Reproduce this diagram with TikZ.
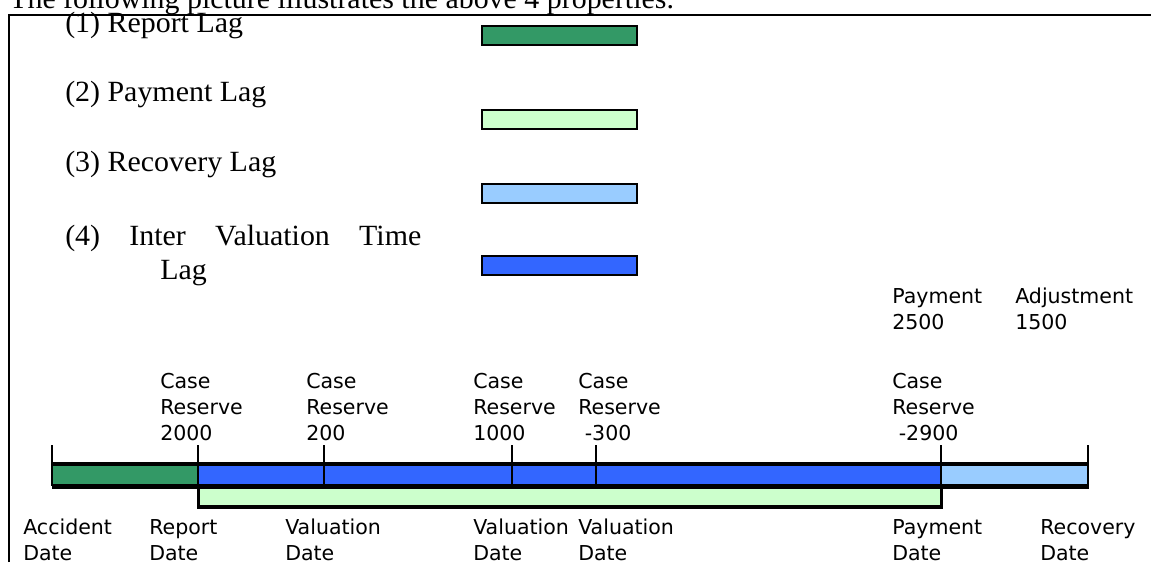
\documentclass[tikz,border=0pt]{standalone}
\usepackage{fontspec}
\setmainfont{Liberation Serif}
\newfontfamily\lagfont[FakeStretch=1.02]{Liberation Serif}
\newfontfamily\datefont{DejaVu Sans}
\usepackage{tikz}

\definecolor{reportgreen}{HTML}{339966}
\definecolor{paygreen}{HTML}{CCFFCC}
\definecolor{recovblue}{HTML}{99CCFF}
\definecolor{interblue}{HTML}{3366FF}

\begin{document}
\begin{tikzpicture}[x=0.75pt,y=-0.75pt,
  lag/.style = {anchor=base west, inner sep=0pt, align=left, font=\lagfont\fontsize{22}{25.5}\selectfont},
  key/.style = {draw, line width=1.5pt, minimum width=116.25pt, minimum height=14.25pt, inner sep=0pt},
  lbl/.style = {anchor=base west, inner sep=0pt, align=left, font=\datefont\fontsize{15.4}{19.5}\selectfont},
  tick/.style = {line width=1.3pt}]
\useasboundingbox (0,0) rectangle (1151,562);

% frame and heading
\node[lag] (title) at (9,8) {The following picture illustrates the above 4 properties.};
\draw[line width=1.6pt] (9,562) -- (9,15) -- (1151,15);

% legend (base anchor sits on the last line)
\node[lag] (l1) at (65,32) {(1) Report Lag};
\node[lag] (l2) at (65,101) {(2) Payment Lag};
\node[lag] (l3) at (65,171) {(3) Recovery Lag};
\node[lag] (l4) at (65,279) {\makebox[267pt][s]{(4) Inter Valuation Time}\\\hspace*{71.25pt}Lag};
\node[key, fill=reportgreen] (k1) at (559.5,35.5) {};
\node[key, fill=paygreen] (k2) at (559.5,119.5) {};
\node[key, fill=recovblue] (k3) at (559.5,193) {};
\node[key, fill=interblue] (k4) at (559.5,265.5) {};

% time line
\fill[reportgreen] (52,464) rectangle (198,486);
\fill[interblue] (198,464) rectangle (941,486);
\fill[recovblue] (941,464) rectangle (1088,486);
\fill[paygreen] (198,486) rectangle (941,507);
\draw[line width=3pt] (52,464) -- (1089,464);
\draw[line width=3.75pt] (52,486.5) -- (1089,486.5);
\draw[line width=2.6pt] (198.5,488) -- (198.5,507) -- (941.5,507) -- (941.5,488);

\foreach \x/\n in {52/acc,198/rep,324/val1,512/val2,596/val3,941/pay,1088/rec}
  \coordinate (\n) at (\x,445);
\foreach \n in {acc,rep,val1,val2,val3,pay,rec}
  \draw[tick] (\n) -- ++(0,41);

% reserves and payments
\node[lbl] (r1) at (160,440) {Case\\Reserve\\2000};
\node[lbl] (r2) at (306,440) {Case\\Reserve\\200};
\node[lbl] (r3) at (473,440) {Case\\Reserve\\1000};
\node[lbl] (r4) at (578,440) {Case\\Reserve\\\ -300};
\node[lbl] (r5) at (892,440) {Case\\Reserve\\\ -2900};
\node[lbl] (pmt) at (892,329) {Payment\\2500};
\node[lbl] (adj) at (1015,329) {Adjustment\\1500};

% dates
\node[lbl] (d1) at (23,560) {Accident\\Date};
\node[lbl] (d2) at (149,560) {Report\\Date};
\node[lbl] (d3) at (285,560) {Valuation\\Date};
\node[lbl] (d4) at (473,560) {Valuation\\Date};
\node[lbl] (d5) at (578,560) {Valuation\\Date};
\node[lbl] (d6) at (892,560) {Payment\\Date};
\node[lbl] (d7) at (1040,560) {Recovery\\Date};
\end{tikzpicture}
\end{document}
